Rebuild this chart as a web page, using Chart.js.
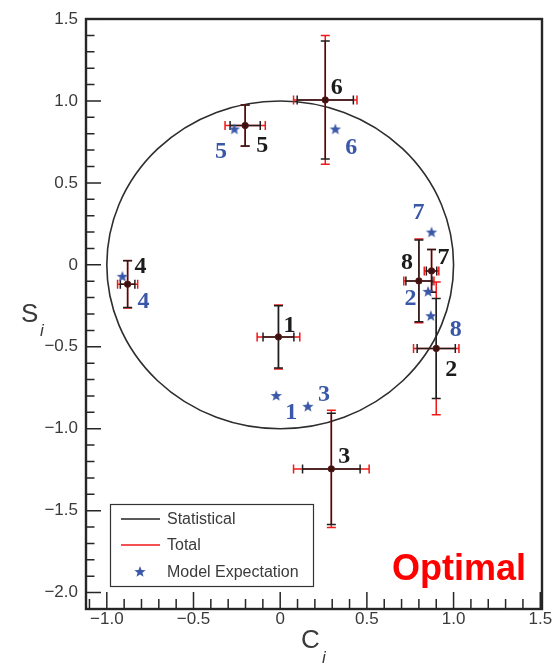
<!DOCTYPE html>
<html>
<head>
<meta charset="utf-8">
<script src="https://cdn.jsdelivr.net/npm/chart.js@4/dist/chart.umd.min.js"></script>
<style>
body{margin:0;background:#fff;}
#wrap{width:556px;height:666px;}
</style>
</head>
<body>
<div id="wrap"><canvas id="chart" width="556" height="666"></canvas></div>
<script>
"use strict"

// measured points (C_i, S_i) with statistical and total errors
var point_names = ["1", "2", "3", "4", "5", "6", "7", "8"];
var meas_c  = [-0.01, 0.90, 0.295, -0.88, -0.202, 0.26, 0.873, 0.80];
var meas_s  = [-0.44, -0.51, -1.245, -0.118, 0.85, 1.006, -0.037, -0.098];
var stat_c  = [0.089, 0.11, 0.166, 0.042, 0.087, 0.162, 0.03, 0.075];
var stat_s  = [0.19, 0.305, 0.34, 0.143, 0.125, 0.36, 0.13, 0.25];
var total_c = [0.123, 0.131, 0.218, 0.058, 0.116, 0.183, 0.042, 0.087];
var total_s = [0.195, 0.405, 0.358, 0.145, 0.126, 0.393, 0.13, 0.255];

// model expectation
var model_c = [-0.023, 0.853, 0.16, -0.91, -0.264, 0.318, 0.873, 0.869];
var model_s = [-0.80, -0.165, -0.866, -0.073, 0.826, 0.826, 0.197, -0.313];

var x_tick_values = [-1.0, -0.5, 0, 0.5, 1.0, 1.5];
var x_tick_labels = ["\u22121.0", "\u22120.5", "0", "0.5", "1.0", "1.5"];
var y_tick_values = [1.5, 1.0, 0.5, 0, -0.5, -1.0, -1.5, -2.0];
var y_tick_labels = ["1.5", "1.0", "0.5", "0", "\u22120.5", "\u22121.0", "\u22121.5", "\u22122.0"];
var legend_labels = ["Statistical", "Total", "Model Expectation"];

// label placement (pixels from marker)
var black_label_offset = [[11,-13],[15,19],[13,-14.5],[13,-19.5],[17,18.5],[11.5,-13.7],[12,-15],[-12,-20]];
var blue_label_offset  = [[15,15],[-17.5,5],[16,-14],[21,23.3],[-13.3,20.4],[16,16.5],[-13,-21.5],[25,11.5]];

var BLUE = "#3b58a8";
var AXIS_COL = "#262626";
var TEXT_COL = "#3a3a3a";

function make_star(r, color){
    var s = Math.ceil(r * 2) + 2;
    var c = document.createElement("canvas");
    c.width = s; c.height = s;
    var g = c.getContext("2d");
    g.fillStyle = color;
    g.beginPath();
    for (var i = 0; i < 10; i++){
        var rr = i % 2 == 0 ? r : r * 0.42;
        var a = -Math.PI / 2 + i * Math.PI / 5;
        g.lineTo(s / 2 + rr * Math.cos(a), s / 2 + rr * Math.sin(a));
    }
    g.closePath();
    g.fill();
    return c;
}
var star_img = make_star(6, BLUE);

function draw_bars(ctx, xs, ys, i, ec, es, color, cap){
    var x0 = xs.getPixelForValue(meas_c[i]), y0 = ys.getPixelForValue(meas_s[i]);
    var xl = xs.getPixelForValue(meas_c[i] - ec[i]), xr = xs.getPixelForValue(meas_c[i] + ec[i]);
    var yt = ys.getPixelForValue(meas_s[i] + es[i]), yb = ys.getPixelForValue(meas_s[i] - es[i]);
    ctx.strokeStyle = color;
    ctx.lineWidth = 1.5;
    ctx.beginPath();
    ctx.moveTo(xl, y0); ctx.lineTo(xr, y0);
    ctx.moveTo(x0, yt); ctx.lineTo(x0, yb);
    ctx.moveTo(xl, y0 - cap); ctx.lineTo(xl, y0 + cap);
    ctx.moveTo(xr, y0 - cap); ctx.lineTo(xr, y0 + cap);
    ctx.moveTo(x0 - cap, yt); ctx.lineTo(x0 + cap, yt);
    ctx.moveTo(x0 - cap, yb); ctx.lineTo(x0 + cap, yb);
    ctx.stroke();
}

var decor_plugin = {
    id: "decor",
    beforeDatasetsDraw: function(chart){
        var ctx = chart.ctx, xs = chart.scales.x, ys = chart.scales.y;
        ctx.save();
        // unit circle
        var cx = xs.getPixelForValue(0), cy = ys.getPixelForValue(0);
        ctx.strokeStyle = "#2e2e2e";
        ctx.lineWidth = 1.6;
        ctx.beginPath();
        ctx.ellipse(cx, cy, xs.getPixelForValue(1) - cx, cy - ys.getPixelForValue(1), 0, 0, Math.PI * 2);
        ctx.stroke();
        for (var i = 0; i < point_names.length; i++){
            draw_bars(ctx, xs, ys, i, total_c, total_s, "#f01818", 4.5);
        }
        for (var j = 0; j < point_names.length; j++){
            draw_bars(ctx, xs, ys, j, stat_c, stat_s, "#1e1e1e", 4.5);
        }
        ctx.restore();
    },
    afterDraw: function(chart){
        var ctx = chart.ctx, xs = chart.scales.x, ys = chart.scales.y;
        var area = chart.chartArea;
        ctx.save();

        // point labels
        ctx.font = "bold 24px 'Liberation Serif'";
        ctx.textAlign = "center";
        ctx.textBaseline = "alphabetic";
        for (var i = 0; i < point_names.length; i++){
            ctx.fillStyle = "#1c1c1c";
            ctx.fillText(point_names[i], xs.getPixelForValue(meas_c[i]) + black_label_offset[i][0],
                ys.getPixelForValue(meas_s[i]) + black_label_offset[i][1] + 8.2);
            ctx.fillStyle = BLUE;
            ctx.fillText(point_names[i], xs.getPixelForValue(model_c[i]) + blue_label_offset[i][0],
                ys.getPixelForValue(model_s[i]) + blue_label_offset[i][1] + 8.2);
        }

        // frame
        ctx.strokeStyle = AXIS_COL;
        ctx.lineWidth = 2.4;
        ctx.strokeRect(area.left, area.top, area.right - area.left, area.bottom - area.top);

        // ticks pointing inward
        ctx.lineWidth = 1.5;
        ctx.beginPath();
        var k, px, len;
        for (k = -11; k <= 15; k++){
            px = xs.getPixelForValue(k / 10);
            len = (k % 5 == 0) ? 17 : 10;
            ctx.moveTo(px, area.bottom); ctx.lineTo(px, area.bottom - len);
        }
        for (k = -21; k <= 15; k++){
            px = ys.getPixelForValue(k / 10);
            len = (k % 5 == 0) ? 15 : 8.5;
            ctx.moveTo(area.left, px); ctx.lineTo(area.left + len, px);
        }
        ctx.stroke();

        // axis titles
        ctx.fillStyle = TEXT_COL;
        ctx.textAlign = "left";
        ctx.font = "26px 'Liberation Sans'";
        ctx.fillText("C", 301, 648);
        ctx.fillText("S", 21, 322);
        ctx.font = "italic 17px 'Liberation Sans'";
        ctx.fillText("i", 322, 663);
        ctx.fillText("i", 40, 336);

        // legend box
        ctx.strokeStyle = "#333";
        ctx.lineWidth = 1.2;
        ctx.strokeRect(110.5, 504.5, 203, 82);
        ctx.lineWidth = 1.4;
        ctx.strokeStyle = "#222";
        ctx.beginPath(); ctx.moveTo(121, 519); ctx.lineTo(160, 519); ctx.stroke();
        ctx.strokeStyle = "#f01818";
        ctx.beginPath(); ctx.moveTo(121, 545); ctx.lineTo(160, 545); ctx.stroke();
        ctx.drawImage(star_img, 140 - star_img.width / 2, 572 - star_img.height / 2);
        ctx.fillStyle = TEXT_COL;
        ctx.font = "16px 'Liberation Sans'";
        ctx.textBaseline = "middle";
        ctx.fillText(legend_labels[0], 167, 520);
        ctx.fillText(legend_labels[1], 167, 546);
        ctx.fillText(legend_labels[2], 167, 573);

        // tag
        ctx.fillStyle = "#ff0000";
        ctx.font = "bold 36px 'Liberation Sans'";
        ctx.textBaseline = "alphabetic";
        ctx.fillText("Optimal", 392, 580);
        ctx.restore();
    }
};

var meas_points = [];
var model_points = [];
for (var i = 0; i < point_names.length; i++){
    meas_points.push({x: meas_c[i], y: meas_s[i]});
    model_points.push({x: model_c[i], y: model_s[i]});
}

var chart = new Chart(document.getElementById("chart").getContext("2d"), {
    type: "scatter",
    data: {
        datasets: [
            {
                label: "Measured",
                data: meas_points,
                pointRadius: 3.2,
                pointBackgroundColor: "#3a1212",
                pointBorderColor: "#5c1818",
                pointBorderWidth: 1
            },
            {
                label: legend_labels[2],
                data: model_points,
                pointStyle: star_img
            }
        ]
    },
    options: {
        responsive: false,
        animation: false,
        devicePixelRatio: 1,
        layout: {padding: {top: 19, right: 14, left: 0, bottom: 0}},
        plugins: {legend: {display: false}, tooltip: {enabled: false}},
        scales: {
            x: {
                type: "linear", min: -1.12, max: 1.51,
                grid: {display: false, drawTicks: false},
                border: {display: false},
                afterBuildTicks: function(s){ s.ticks = x_tick_values.map(function(v){ return {value: v}; }); },
                afterFit: function(s){ s.height = 57; },
                ticks: {
                    padding: 0, color: TEXT_COL, autoSkip: false, maxRotation: 0,
                    font: {family: "'Liberation Sans'", size: 17},
                    callback: function(v, idx){ return x_tick_labels[idx]; }
                }
            },
            y: {
                type: "linear", min: -2.10, max: 1.50,
                grid: {display: false, drawTicks: false},
                border: {display: false},
                afterBuildTicks: function(s){ s.ticks = y_tick_values.map(function(v){ return {value: v}; }); },
                afterFit: function(s){ s.width = 86; },
                ticks: {
                    padding: 8, color: TEXT_COL, autoSkip: false,
                    font: {family: "'Liberation Sans'", size: 17},
                    callback: function(v, idx){ return y_tick_labels[idx]; }
                }
            }
        }
    },
    plugins: [decor_plugin]
});
</script>
</body>
</html>
